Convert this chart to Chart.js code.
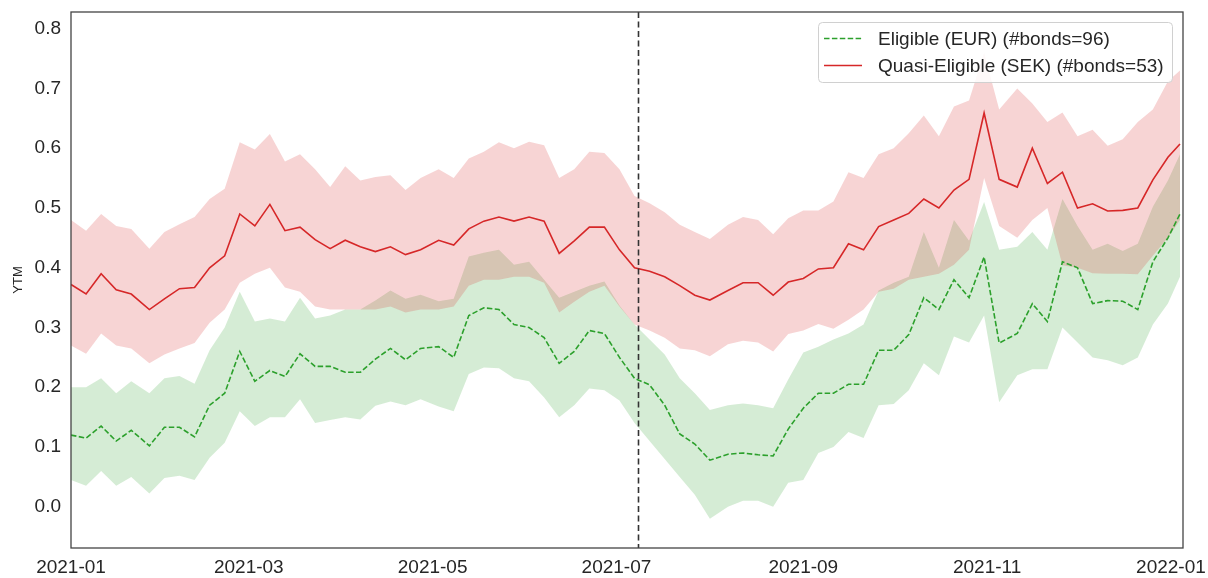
<!DOCTYPE html>
<html>
<head>
<meta charset="utf-8">
<script src="https://cdn.jsdelivr.net/npm/chart.js@4.4.1/dist/chart.umd.min.js"></script>
<style>
  body { margin: 0; background: #fff; }
</style>
</head>
<body>
<canvas id="myChart" width="1208" height="578"></canvas>
<script>
// fechas de las observaciones
const dates = [
  '2021-01-01','2021-01-06','2021-01-11','2021-01-16','2021-01-21','2021-01-27','2021-02-01',
  '2021-02-06','2021-02-11','2021-02-16','2021-02-21','2021-02-26','2021-03-03','2021-03-08',
  '2021-03-13','2021-03-18','2021-03-23','2021-03-28','2021-04-02','2021-04-07','2021-04-12',
  '2021-04-17','2021-04-22','2021-04-27','2021-05-03','2021-05-08','2021-05-13','2021-05-18',
  '2021-05-23','2021-05-28','2021-06-02','2021-06-07','2021-06-12','2021-06-17','2021-06-22',
  '2021-06-27','2021-07-02','2021-07-07','2021-07-12','2021-07-17','2021-07-22','2021-07-27',
  '2021-08-01','2021-08-07','2021-08-12','2021-08-17','2021-08-22','2021-08-27','2021-09-01',
  '2021-09-06','2021-09-11','2021-09-16','2021-09-21','2021-09-26','2021-10-01','2021-10-06',
  '2021-10-11','2021-10-16','2021-10-21','2021-10-26','2021-10-31','2021-11-05','2021-11-11',
  '2021-11-16','2021-11-21','2021-11-26','2021-12-01','2021-12-06','2021-12-11','2021-12-16',
  '2021-12-21','2021-12-26','2021-12-31','2022-01-04'
];

// Eligible (EUR)
const greenMean = [
  0.12,0.115,0.135,0.11,0.128,0.102,0.133,0.133,0.117,0.17,0.19,0.26,0.21,0.228,
  0.218,0.256,0.235,0.235,0.225,0.225,0.247,0.265,0.246,0.265,0.268,0.25,0.32,0.333,
  0.33,0.305,0.30,0.283,0.24,0.26,0.295,0.29,0.25,0.215,0.204,0.17,0.122,0.105,
  0.078,0.088,0.09,0.087,0.085,0.13,0.165,0.19,0.19,0.205,0.205,0.262,0.262,0.288,
  0.35,0.33,0.38,0.35,0.418,0.274,0.29,0.34,0.31,0.41,0.40,0.34,0.345,0.344,
  0.33,0.41,0.45,0.49
];
const greenHigh = [
  0.2,0.2,0.215,0.19,0.21,0.19,0.215,0.219,0.206,0.262,0.30,0.36,0.31,0.315,
  0.31,0.35,0.315,0.32,0.33,0.33,0.345,0.362,0.348,0.355,0.344,0.348,0.419,0.425,
  0.43,0.405,0.41,0.38,0.35,0.36,0.37,0.377,0.337,0.305,0.28,0.255,0.215,0.19,
  0.162,0.17,0.173,0.17,0.165,0.213,0.258,0.268,0.28,0.29,0.305,0.362,0.375,0.385,
  0.46,0.40,0.48,0.445,0.51,0.43,0.435,0.46,0.43,0.515,0.47,0.43,0.44,0.428,
  0.44,0.502,0.546,0.59
];
const greenLow = [
  0.045,0.035,0.06,0.035,0.05,0.022,0.048,0.052,0.045,0.082,0.107,0.16,0.135,0.15,
  0.15,0.18,0.14,0.145,0.15,0.146,0.169,0.176,0.17,0.18,0.168,0.16,0.222,0.233,
  0.232,0.215,0.21,0.183,0.15,0.17,0.198,0.195,0.178,0.14,0.11,0.08,0.05,0.02,
  -0.02,0.0,0.01,0.01,0.0,0.04,0.045,0.09,0.10,0.125,0.115,0.17,0.172,0.195,
  0.24,0.22,0.285,0.275,0.32,0.175,0.22,0.23,0.23,0.30,0.275,0.25,0.245,0.237,
  0.25,0.305,0.34,0.385
];

// Quasi-Eligible (SEK)
const redMean = [
  0.372,0.356,0.39,0.363,0.356,0.33,0.348,0.365,0.367,0.40,0.42,0.49,0.47,0.506,
  0.462,0.468,0.447,0.432,0.446,0.435,0.427,0.435,0.422,0.43,0.446,0.438,0.465,0.478,
  0.485,0.478,0.485,0.478,0.424,0.445,0.468,0.468,0.43,0.40,0.394,0.385,0.37,0.354,
  0.346,0.362,0.375,0.375,0.354,0.376,0.382,0.398,0.40,0.44,0.43,0.469,0.48,0.491,
  0.515,0.50,0.53,0.548,0.659,0.548,0.535,0.60,0.541,0.56,0.50,0.507,0.495,0.496,
  0.50,0.547,0.585,0.607
];
const redHigh = [
  0.48,0.462,0.49,0.47,0.465,0.432,0.46,0.473,0.485,0.515,0.532,0.61,0.598,0.624,
  0.578,0.59,0.565,0.535,0.57,0.546,0.552,0.555,0.53,0.55,0.565,0.55,0.583,0.594,
  0.61,0.60,0.611,0.605,0.55,0.565,0.594,0.592,0.565,0.52,0.508,0.493,0.472,0.46,
  0.448,0.472,0.485,0.48,0.456,0.483,0.496,0.496,0.511,0.56,0.55,0.59,0.60,0.625,
  0.655,0.62,0.67,0.68,0.76,0.665,0.70,0.675,0.644,0.66,0.62,0.631,0.604,0.615,
  0.644,0.665,0.712,0.73
];
const redLow = [
  0.27,0.256,0.29,0.27,0.265,0.24,0.255,0.265,0.274,0.308,0.33,0.375,0.39,0.40,
  0.367,0.36,0.335,0.33,0.33,0.33,0.33,0.335,0.325,0.33,0.33,0.335,0.37,0.38,
  0.38,0.385,0.385,0.375,0.325,0.343,0.36,0.37,0.335,0.305,0.295,0.283,0.265,0.262,
  0.252,0.272,0.278,0.275,0.26,0.289,0.295,0.306,0.298,0.313,0.33,0.36,0.365,0.38,
  0.385,0.39,0.405,0.43,0.55,0.47,0.45,0.48,0.50,0.404,0.40,0.391,0.39,0.39,
  0.389,0.42,0.45,0.48
];

const xTickLabels = ['2021-01','2021-03','2021-05','2021-07','2021-09','2021-11','2022-01'];
const yTickValues = [0.0,0.1,0.2,0.3,0.4,0.5,0.6,0.7,0.8];
const xStart = '2021-01-01';
const xEnd = '2022-01-05';
const eventDate = '2021-07-08';
const legendLabels = ['Eligible (EUR) (#bonds=96)', 'Quasi-Eligible (SEK) (#bonds=53)'];

const GREEN = '#2ca02c';
const RED = '#d62728';
const FONT = '"Liberation Sans", Arial, sans-serif';
const t0 = Date.parse(xStart);
const toDay = s => (Date.parse(s) - t0) / 864e5;
const pts = arr => arr.map((v, i) => ({ x: toDay(dates[i]), y: v }));
const xTickDays = xTickLabels.map(l => toDay(l + '-01'));

// plugin: marco, linea vertical y leyenda
const extras = {
  id: 'extras',
  afterDatasetsDraw(chart) {
    const { ctx, chartArea: a, scales } = chart;
    ctx.save();
    // linea vertical
    const xv = Math.round(scales.x.getPixelForValue(toDay(eventDate))) + 0.5;
    ctx.strokeStyle = '#333';
    ctx.lineWidth = 1.6;
    ctx.setLineDash([6, 3.5]);
    ctx.beginPath();
    ctx.moveTo(xv, a.top);
    ctx.lineTo(xv, a.bottom);
    ctx.stroke();
    ctx.setLineDash([]);
    // marco
    ctx.strokeStyle = '#444';
    ctx.lineWidth = 1.3;
    ctx.strokeRect(a.left, a.top, a.right - a.left, a.bottom - a.top);
    // leyenda
    const bx = 818, by = 22, bw = 354, bh = 60;
    ctx.fillStyle = 'rgba(255,255,255,0.85)';
    ctx.strokeStyle = '#d0d0d0';
    ctx.lineWidth = 1;
    ctx.beginPath();
    ctx.roundRect(bx + 0.5, by + 0.5, bw, bh, 4);
    ctx.fill();
    ctx.stroke();
    const rows = [38.5, 65.5];
    ctx.font = '19px ' + FONT;
    ctx.textBaseline = 'middle';
    ctx.fillStyle = '#262626';
    [[GREEN, [5.5, 2.4]], [RED, []]].forEach(([c, dash], i) => {
      ctx.strokeStyle = c;
      ctx.lineWidth = 1.6;
      ctx.setLineDash(dash);
      ctx.beginPath();
      ctx.moveTo(824, rows[i]);
      ctx.lineTo(862, rows[i]);
      ctx.stroke();
      ctx.setLineDash([]);
      ctx.fillText(legendLabels[i], 878, rows[i] + 1);
    });
    ctx.restore();
  }
};

const lineDs = (label, data, color, dash) => ({
  label, data: pts(data), borderColor: color, borderWidth: 1.6, borderDash: dash,
  pointRadius: 0, fill: false, tension: 0
});
const bandDs = (data, color, fill) => ({
  data: pts(data), borderColor: 'rgba(0,0,0,0)', borderWidth: 0, backgroundColor: color,
  pointRadius: 0, fill: fill, tension: 0
});

new Chart(document.getElementById('myChart'), {
  type: 'line',
  data: {
    // el primero se dibuja arriba
    datasets: [
      lineDs(legendLabels[1], redMean, RED, []),
      lineDs(legendLabels[0], greenMean, GREEN, [5.5, 2.4]),
      bandDs(redHigh, 'rgba(214,39,40,0.2)', '+1'),
      bandDs(redLow, 'rgba(214,39,40,0.2)', false),
      bandDs(greenHigh, 'rgba(44,160,44,0.2)', '+1'),
      bandDs(greenLow, 'rgba(44,160,44,0.2)', false)
    ]
  },
  options: {
    responsive: false,
    animation: false,
    devicePixelRatio: 1,
    layout: { padding: { top: 12, right: 25, left: 0, bottom: 0 } },
    plugins: { legend: { display: false }, tooltip: { enabled: false } },
    scales: {
      x: {
        type: 'linear',
        min: 0, max: toDay(xEnd),
        grid: { display: false, drawTicks: false },
        border: { display: false },
        afterBuildTicks: s => { s.ticks = xTickDays.map(v => ({ value: v })); },
        afterFit: s => { s.height = 30; s.paddingLeft = 0; s.paddingRight = 0; },
        ticks: {
          autoSkip: false, maxRotation: 0, padding: 8,
          color: '#262626',
          font: { size: 19, family: FONT },
          callback: v => xTickLabels[xTickDays.indexOf(v)]
        }
      },
      y: {
        min: -0.069, max: 0.828,
        grid: { display: false, drawTicks: false },
        border: { display: false },
        afterBuildTicks: s => { s.ticks = yTickValues.map(v => ({ value: v })); },
        afterFit: s => { s.width = 71; s.paddingTop = 0; s.paddingBottom = 0; },
        ticks: {
          padding: 10,
          color: '#262626',
          font: { size: 19, family: FONT },
          callback: v => v.toFixed(1)
        },
        title: {
          display: true, text: 'YTM', color: '#262626',
          font: { size: 13, family: FONT },
          padding: { top: 11, bottom: 0 }
        }
      }
    }
  },
  plugins: [extras]
});
</script>
</body>
</html>
